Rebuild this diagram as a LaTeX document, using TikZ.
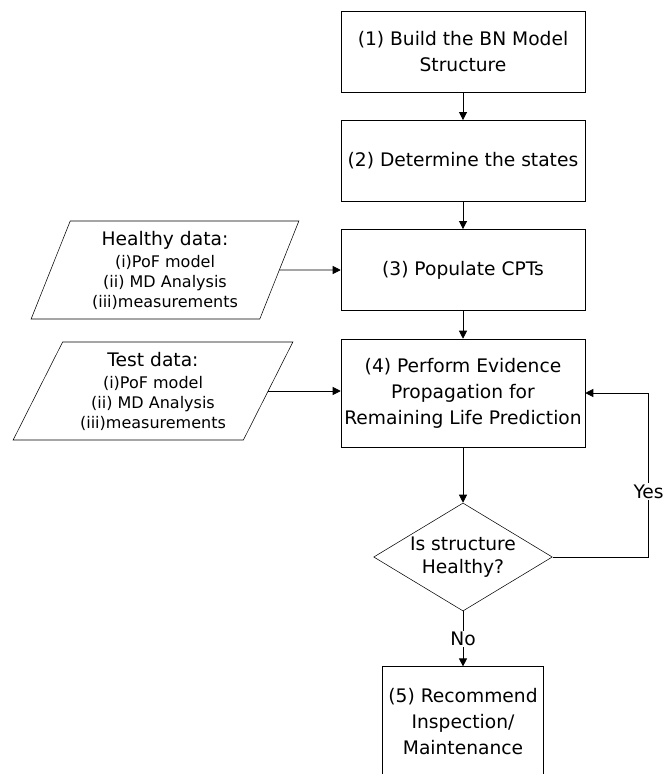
\documentclass[tikz,border=0pt]{standalone}
\usepackage{fontspec}
\setmainfont{DejaVu Sans}
\usetikzlibrary{arrows.meta, shapes.geometric}

\begin{document}
\begin{tikzpicture}[x=0.75pt, y=-0.75pt,
    every node/.style={font=\fontsize{14}{19.5}\selectfont},
    stepbox/.style={draw, rectangle, inner sep=0pt, align=center, minimum width=183pt, minimum height=61pt},
    databox/.style={draw, trapezium, trapezium stretches, inner sep=0pt, align=center, minimum height=73.5pt,
        font=\fontsize{12}{15}\selectfont},
    decision/.style={draw, diamond, aspect=1.66, inner sep=0pt, align=center, minimum width=134pt, minimum height=81pt,
        font=\fontsize{14}{17}\selectfont},
    flow/.style={-{Triangle[width=6pt, length=6pt]}, line width=0.6pt},
    lbl/.style={fill=white, inner sep=1pt}]
    \clip (0,0) rectangle (664,774);
    \node[stepbox] (build) at (463,51.5) {(1) Build the BN Model\\Structure};
    \node[stepbox] (states) at (463,161) {(2) Determine the states};
    \node[stepbox] (cpt) at (463,270) {(3) Populate CPTs};
    \node[stepbox, minimum height=81pt] (evid) at (463,393) {(4) Perform Evidence\\Propagation for\\Remaining Life Prediction};
    \node[decision] (healthy) at (463,557) {Is structure\\Healthy?};
    \node[stepbox, minimum width=121pt, minimum height=83pt] (maint) at (463,722) {(5) Recommend\\Inspection/\\Maintenance};
    \node[databox, trapezium left angle=69, trapezium right angle=111, minimum width=201pt] (hdata) at (165,270)
        {{\fontsize{14}{15}\selectfont Healthy data:}\\[1.5pt](i)PoF model\\(ii) MD Analysis\\(iii)measurements};
    \node[databox, trapezium left angle=63, trapezium right angle=117, minimum width=210pt] (tdata) at (153,391)
        {{\fontsize{14}{15}\selectfont Test data:}\\[1.5pt](i)PoF model\\(ii) MD Analysis\\(iii)measurements};
    \draw[flow] (build) -- (states);
    \draw[flow] (states) -- (cpt);
    \draw[flow] (cpt) -- (evid);
    \draw[flow] (evid) -- (healthy);
    \draw[flow] (hdata.east) -- (cpt.west);
    \draw[flow] (tdata.east) -- (tdata.east -| evid.west);
    \draw[flow] (healthy.east) -- ++(96,0) |- (evid.east) node[lbl, pos=0.2] {Yes};
    \draw[flow] (healthy) -- (maint) node[lbl, pos=0.5] {No};
\end{tikzpicture}
\end{document}
